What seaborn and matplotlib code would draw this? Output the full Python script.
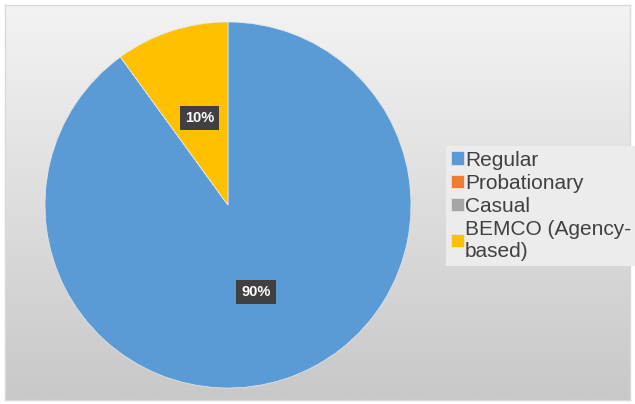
import numpy as np
import matplotlib
matplotlib.use("Agg")
import matplotlib.pyplot as plt
import seaborn as sns

# Data
categories = ["Regular", "Probationary", "Casual", "BEMCO (Agency-\nbased)"]
shares = [90, 0, 0, 10]
colors = ["#5B9BD5", "#ED7D31", "#A5A5A5", "#FFC000"]

sns.set_theme(style="white")
plt.rcParams["font.family"] = ["Liberation Sans", "DejaVu Sans"]

fig = plt.figure(figsize=(6.35, 4.04), dpi=100)
fig.patch.set_facecolor("white")

# Gradient background for the chart area
bg = fig.add_axes([5 / 635, 4 / 404, 625 / 635, 395 / 404])
grad = np.linspace(0, 1, 256).reshape(-1, 1)
bg.imshow(grad, aspect="auto", cmap=matplotlib.colors.LinearSegmentedColormap.from_list(
    "bg", ["#f3f3f3", "#c8c8c8"]), extent=[0, 1, 0, 1], origin="upper")
bg.set_xticks([])
bg.set_yticks([])
for s in bg.spines.values():
    s.set_color("#d9d9d9")
    s.set_linewidth(1)

# Pie axes
r_px = 183
cx, cy = 228, 404 - 205
ax = fig.add_axes([(cx - r_px) / 635, (cy - r_px) / 404, 2 * r_px / 635, 2 * r_px / 404])
ax.set_facecolor("none")


def fmt(p):
    return f"{p:.0f}%" if p > 0.5 else ""


wedges, texts, autotexts = ax.pie(
    shares, colors=colors, startangle=90, counterclock=False,
    autopct=fmt, pctdistance=0.5, radius=1.0,
    wedgeprops=dict(edgecolor="#e8e8e8", linewidth=0.5),
    textprops=dict(color="white", fontsize=10.5, fontweight="bold"),
)
for t in autotexts:
    if t.get_text():
        t.set_bbox(dict(boxstyle="square,pad=0.35", facecolor="#404040", edgecolor="none"))
ax.set_xlim(-1, 1)
ax.set_ylim(-1, 1)
ax.set_aspect("auto")

leg = fig.legend(
    wedges, categories, loc="upper left",
    bbox_to_anchor=(446 / 635, 1 - 146 / 404),
    fontsize=15, frameon=True, fancybox=False,
    handlelength=0.62, handleheight=0.62, handletextpad=0.08,
    labelspacing=0.2, borderpad=0.22, borderaxespad=0,
)
leg.get_frame().set_facecolor("#ececec")
leg.get_frame().set_edgecolor("none")
leg.get_frame().set_alpha(1)
for t in leg.get_texts():
    t.set_color("#404040")

fig.savefig("out.png", dpi=100)
